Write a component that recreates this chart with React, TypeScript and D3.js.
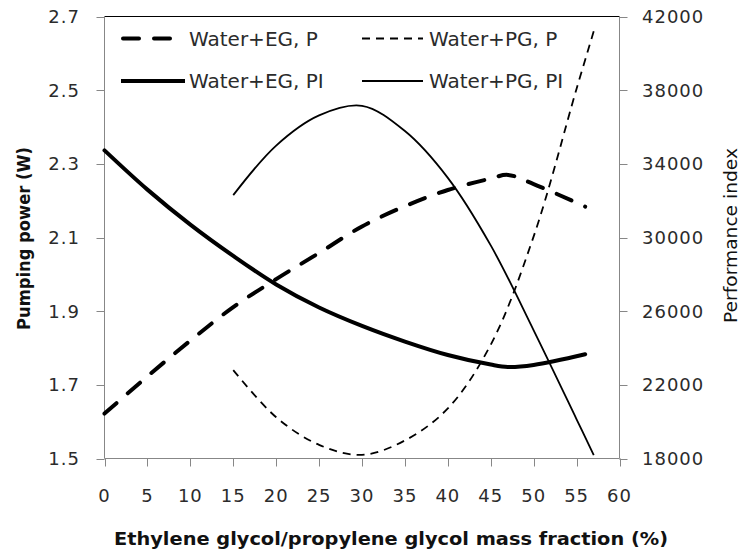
import React from "react";
import * as d3 from "d3";

const xEG = [0, 5, 10, 15, 20, 25, 30, 35, 40, 45, 47, 50, 56];
const egPower = [1.622, 1.723, 1.82, 1.911, 1.987, 2.058, 2.13, 2.185, 2.229, 2.26, 2.27, 2.245, 2.184];
const egPI = [34730, 32600, 30700, 29000, 27450, 26200, 25200, 24350, 23620, 23100, 22970, 23080, 23660];

const xPG = [15, 20, 25, 30, 35, 40, 45, 50, 55, 57];
const pgPower = [1.74, 1.612, 1.537, 1.51, 1.549, 1.636, 1.809, 2.103, 2.504, 2.66];
const pgPI = [32300, 34990, 36630, 37150, 35780, 33240, 29570, 24960, 20130, 18180];

const xTicks = [0, 5, 10, 15, 20, 25, 30, 35, 40, 45, 50, 55, 60];
const leftTicks = [1.5, 1.7, 1.9, 2.1, 2.3, 2.5, 2.7];
const rightTicks = [18000, 22000, 26000, 30000, 34000, 38000, 42000];

const legendLabels = ["Water+EG, P", "Water+PG, P", "Water+EG, PI", "Water+PG, PI"];

export default function App() {
  const W = 740, H = 552;
  const left = 104.5, right = 619.5, top = 16.5, bottom = 458.5;
  const x = d3.scaleLinear().domain([0, 60]).range([left, right]);
  const yL = d3.scaleLinear().domain([1.5, 2.7]).range([bottom, top]);
  const yR = d3.scaleLinear().domain([18000, 42000]).range([bottom, top]);

  const mk = (xs: number[], ys: number[], sy: d3.ScaleLinear<number, number>) =>
    d3.line<number>()
      .x((_, i) => x(xs[i]))
      .y((v) => sy(v))
      .curve(d3.curveCatmullRom.alpha(0.5))(ys) || "";

  const thickDash = "16,15";
  const thinDash = "8,6";
  const tickFont = "DejaVu Sans";
  const axisColor = "#878787";
  const textColor = "#2b2b2b";

  const series = [
    { d: mk(xEG, egPower, yL), w: 4, dash: thickDash, cap: "round" },
    { d: mk(xPG, pgPower, yL), w: 1.8, dash: thinDash, cap: "butt" },
    { d: mk(xEG, egPI, yR), w: 4, dash: undefined, cap: "round" },
    { d: mk(xPG, pgPI, yR), w: 1.8, dash: undefined, cap: "butt" },
  ];

  const legendPos = [
    { x1: 121, x2: 185, tx: 189, y: 38.5, w: 4, dash: thickDash, cap: "round" },
    { x1: 362, x2: 423, tx: 429, y: 38.5, w: 1.8, dash: thinDash, cap: "butt" },
    { x1: 121, x2: 185, tx: 189, y: 81, w: 4, dash: undefined, cap: "butt" },
    { x1: 362, x2: 423, tx: 429, y: 81, w: 1.8, dash: undefined, cap: "butt" },
  ];

  return (
    <svg width={W} height={H} style={{ position: "absolute", left: 0, top: 0, background: "#fff" }}>
      <rect x={0} y={0} width={W} height={H} fill="#fff" />
      <line x1={left} x2={right} y1={top} y2={top} stroke="#000" strokeWidth={1} />
      <line x1={left} x2={left} y1={top} y2={bottom} stroke={axisColor} strokeWidth={1} />
      <line x1={right} x2={right} y1={top} y2={bottom} stroke={axisColor} strokeWidth={1} />
      <line x1={left} x2={right} y1={bottom} y2={bottom} stroke={axisColor} strokeWidth={1} />
      {xTicks.map((t) => (
        <g key={"xt" + t}>
          <line x1={Math.round(x(t)) + 0.5} x2={Math.round(x(t)) + 0.5} y1={bottom} y2={bottom + 8} stroke={axisColor} />
          <text x={x(t)} y={501.5} textAnchor="middle" fontFamily={tickFont} fontSize={18} letterSpacing={1} fill={textColor}>{t}</text>
        </g>
      ))}
      {leftTicks.map((t) => (
        <g key={"yl" + t}>
          <line x1={left - 8} x2={left} y1={Math.round(yL(t)) + 0.5} y2={Math.round(yL(t)) + 0.5} stroke={axisColor} />
          <text x={80} y={yL(t)} dy="0.36em" textAnchor="end" fontFamily={tickFont} fontSize={18} letterSpacing={1} fill={textColor}>{t.toFixed(1)}</text>
        </g>
      ))}
      {rightTicks.map((t) => (
        <g key={"yr" + t}>
          <line x1={right} x2={right + 8} y1={Math.round(yR(t)) + 0.5} y2={Math.round(yR(t)) + 0.5} stroke={axisColor} />
          <text x={642} y={yR(t)} dy="0.36em" textAnchor="start" fontFamily={tickFont} fontSize={18} letterSpacing={1} fill={textColor}>{t}</text>
        </g>
      ))}
      {series.map((s, i) => (
        <path key={"s" + i} d={s.d} fill="none" stroke="#000" strokeWidth={s.w}
          strokeDasharray={s.dash} strokeLinecap={s.cap as any} strokeLinejoin="round" />
      ))}
      {legendPos.map((p, i) => (
        <g key={"lg" + i}>
          <line x1={p.x1 + (p.cap === "round" ? 2 : 0)} x2={p.x2} y1={p.y} y2={p.y} stroke="#000" strokeWidth={p.w}
            strokeDasharray={p.dash} strokeLinecap={p.cap as any} />
          <text x={p.tx} y={p.y} dy="0.36em" fontFamily={tickFont} fontSize={20} fill={textColor}>{legendLabels[i]}</text>
        </g>
      ))}
      <text x={391} y={545} textAnchor="middle" fontFamily={tickFont} fontWeight="bold" fontSize={18.5}
        textLength={554} lengthAdjust="spacingAndGlyphs" fill="#111">Ethylene glycol/propylene glycol mass fraction (%)</text>
      <text transform="translate(30,238.5) rotate(-90)" textAnchor="middle" fontFamily={tickFont} fontWeight="bold" fontSize={18}
        textLength={183} lengthAdjust="spacingAndGlyphs" fill="#111">Pumping power (W)</text>
      <text transform="translate(737,235.5) rotate(-90)" textAnchor="middle" fontFamily={tickFont} fontSize={18.5}
        textLength={175} lengthAdjust="spacingAndGlyphs" fill="#111">Performance index</text>
    </svg>
  );
}
